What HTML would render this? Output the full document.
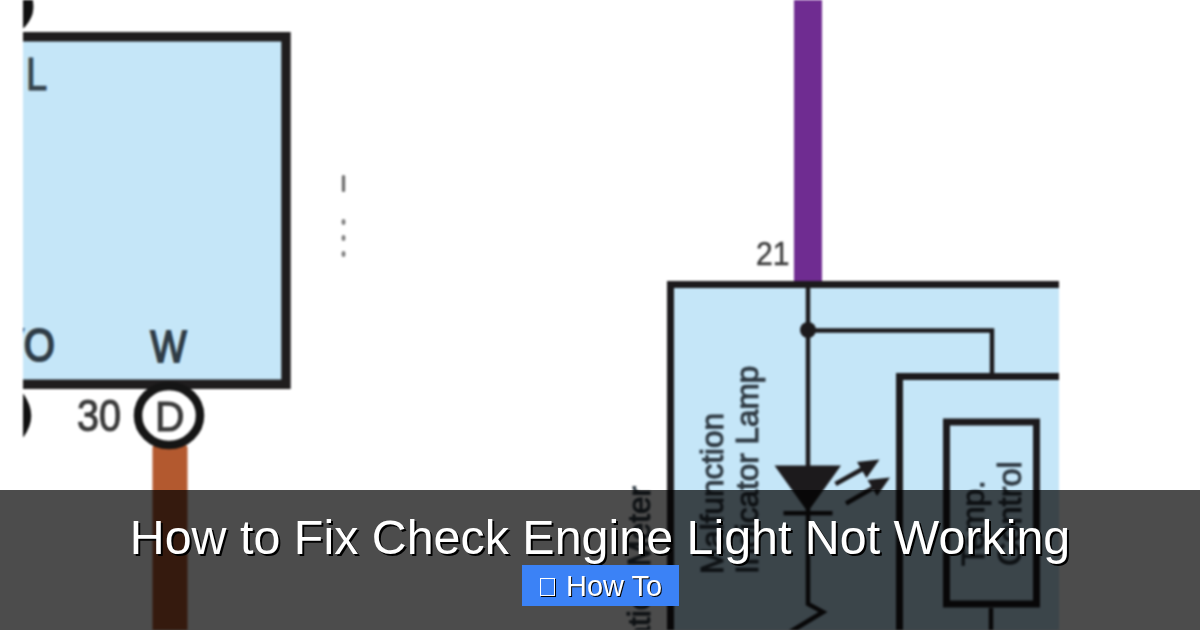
<!DOCTYPE html>
<html>
<head>
<meta charset="utf-8">
<style>
html,body{margin:0;padding:0;}
body{width:1200px;height:630px;overflow:hidden;position:relative;background:#fff;font-family:"Liberation Sans",sans-serif;}
svg.d{position:absolute;left:0;top:0;filter:blur(1px);}
.ov{position:absolute;left:0;top:490px;width:1200px;height:140px;background:rgba(0,0,0,0.7);}
.title{position:absolute;left:0;top:509px;width:1200px;text-align:center;color:#fff;font-size:48.4px;line-height:56px;text-shadow:2px 2px 0 #000;white-space:nowrap;}
.btn{position:absolute;left:522px;top:565px;width:157px;height:41px;background:#3b82f6;}
.btn .ic{position:absolute;left:18px;top:13px;width:15px;height:18px;border:1.5px solid #fff;box-sizing:border-box;box-shadow:1px 1px 0 #000;}
.btn .tx{position:absolute;left:44px;top:3.5px;color:#fff;font-size:29px;line-height:34px;text-shadow:1px 1px 0 #000;white-space:nowrap;}
</style>
</head>
<body>
<svg class="d" width="1200" height="630" viewBox="0 0 1200 630">
  <defs><clipPath id="cl"><rect x="23" y="-10" width="1040" height="700"/></clipPath></defs>
  <g clip-path="url(#cl)">
  <!-- left box -->
  <rect x="10" y="36" width="276" height="348" fill="#c5e6f8"/>
  <path d="M10 36.8 H286 V384.3 H10" fill="none" stroke="#1f1d1e" stroke-width="9.4"/>
  <!-- top left arc -->
  <path d="M18 -4 L32 -4 Q34.5 6 32.5 14 Q29.5 23 23 28.5 L18 28.5 Z" fill="#111"/>
  <!-- left bottom arc -->
  <path d="M18 394 L23.5 394 Q39 416 23.5 437 L18 437 Z" fill="#111"/>
  <g fill="#2f3c46" stroke="#2f3c46" stroke-width="1.9" font-family="Liberation Sans">
    <text transform="translate(26,90) scale(0.83,1)" font-size="46" stroke-width="1.2" fill="#36434d" stroke="#36434d">L</text>
    <text transform="translate(-3,361) scale(0.87,1)" font-size="46">VO</text>
    <text transform="translate(150.5,361.5) scale(0.85,1)" font-size="45">W</text>
  </g>
  <g fill="#3a3a3a" stroke="#3a3a3a" stroke-width="1.1" font-family="Liberation Sans">
    <text transform="translate(77,431) scale(0.88,1)" font-size="45">30</text>
    <text transform="translate(155,430.5) scale(0.95,1)" font-size="43">D</text>
  </g>
  <!-- brown wire -->
  <rect x="152.5" y="445" width="35" height="200" rx="3" fill="#b3592f"/>
  <!-- circle D -->
  <ellipse cx="169" cy="415.5" rx="31" ry="29.5" fill="none" stroke="#151515" stroke-width="8.5"/>
  <!-- dots -->
  <rect x="341.8" y="175" width="3.4" height="17" rx="1.5" fill="#707070"/>
  <ellipse cx="343.5" cy="222" rx="2" ry="3" fill="#808080"/>
  <ellipse cx="343.5" cy="238" rx="2" ry="3" fill="#808080"/>
  <ellipse cx="343.5" cy="254" rx="2" ry="3" fill="#808080"/>
  <!-- purple wire -->
  <rect x="794" y="-5" width="28" height="292" fill="#6f2c91"/>
  <text transform="translate(756,265) scale(0.91,1)" font-size="33" fill="#3d3d3d" stroke="#3d3d3d" stroke-width="0.5" font-family="Liberation Sans">21</text>
  <!-- right box -->
  <rect x="670" y="284" width="389" height="360" fill="#c5e6f8"/>
  <path d="M670.5 640 V284.5 H1059" fill="none" stroke="#1c1a1c" stroke-width="7"/>
  <!-- rotated texts -->
  <g fill="#2f3a43" stroke="#2f3a43" stroke-width="1" font-family="Liberation Sans" font-size="31.5">
    <text transform="translate(723,574) rotate(-90)">Malfunction</text>
    <text transform="translate(758,574) rotate(-90)">Indicator Lamp</text>
    <text transform="translate(984,566) rotate(-90)">Temp.</text>
    <text transform="translate(1021,566) rotate(-90)" font-size="32.5">Control</text>
    <text transform="translate(650,486) rotate(-90)" text-anchor="end">Combination Meter</text>
  </g>
  <!-- inner lines -->
  <path d="M808 288 V604 L823 612 L790 632" fill="none" stroke="#1c1a1c" stroke-width="4.5" stroke-linejoin="miter"/>
  <circle cx="808" cy="330" r="8" fill="#1c1a1c"/>
  <path d="M808 330.5 H992 V376" fill="none" stroke="#1c1a1c" stroke-width="4.5"/>
  <path d="M899.5 640 V376.5 H1059" fill="none" stroke="#1c1a1c" stroke-width="7"/>
  <rect x="946.5" y="422" width="90" height="182" fill="none" stroke="#1c1a1c" stroke-width="7"/>
  <path d="M991 608 V640" fill="none" stroke="#1c1a1c" stroke-width="4.5"/>
  <!-- diode -->
  <path d="M774.5 465.5 H841 L807.7 512 Z" fill="#1c1a1c"/>
  <rect x="783.5" y="511" width="49" height="4.4" fill="#1c1a1c"/>
  <!-- arrows -->
  <path d="M835.5 484 L866 467" stroke="#1c1a1c" stroke-width="4.5"/>
  <path d="M879.5 459.5 L857 462 L866.5 478 Z" fill="#1c1a1c"/>
  <path d="M846 503.5 L876.5 486" stroke="#1c1a1c" stroke-width="4.5"/>
  <path d="M890 477.5 L867.5 480 L877 496 Z" fill="#1c1a1c"/>
  </g>
</svg>
<div class="ov"></div>
<div class="title">How to Fix Check Engine Light Not Working</div>
<div class="btn"><span class="ic"></span><span class="tx">How To</span></div>
</body>
</html>
